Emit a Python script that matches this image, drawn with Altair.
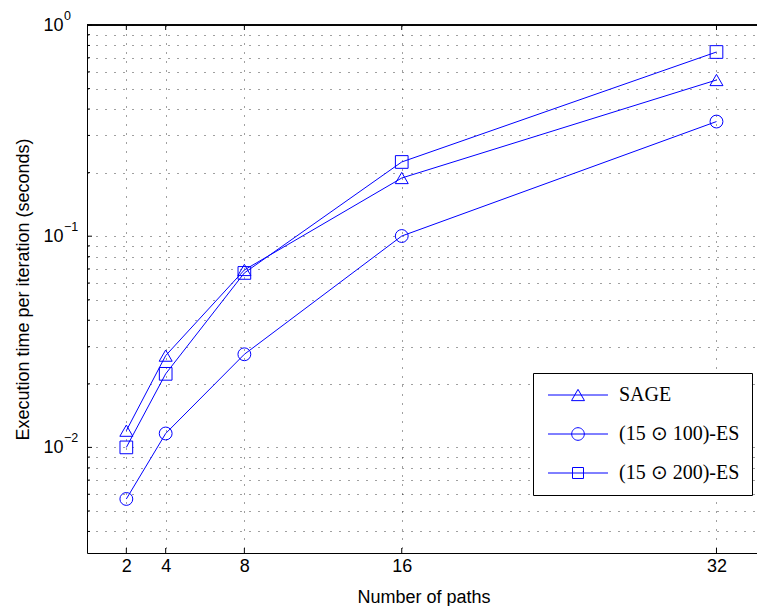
import altair as alt
import pandas as pd

# ---- data ----
paths = [2, 4, 8, 16, 32]
sage = [0.0120, 0.0272, 0.0692, 0.1886, 0.549]
es100 = [0.0057, 0.01164, 0.0276, 0.1002, 0.349]
es200 = [0.0100, 0.0223, 0.0670, 0.2246, 0.745]
series_names = ["SAGE", "(15 \u2299 100)-ES", "(15 \u2299 200)-ES"]

x_ticks = [2, 4, 8, 16, 32]
y_major = [0.01, 0.1, 1.0]
y_exponents = ["\u22122", "\u22121", "0"]
y_minor = [0.004, 0.005, 0.006, 0.007, 0.008, 0.009,
           0.02, 0.03, 0.04, 0.05, 0.06, 0.07, 0.08, 0.09,
           0.2, 0.3, 0.4, 0.5, 0.6, 0.7, 0.8, 0.9]
y_grid = sorted(y_major + y_minor)

rows = []
for name, vals in zip(series_names, [sage, es100, es200]):
    for p, v in zip(paths, vals):
        rows.append({"paths": p, "time": v, "series": name})
df = pd.DataFrame(rows)

W, H = 670, 528
BLUE = "#0000ff"

marker_shapes = ["triangle-up", "circle", "square"]
marker_sizes = [169, 161, 121]
# legend glyphs: a line with the marker in the middle (unit = 6.5 px)
legend_shapes = [
    "M-4.615,0L4.615,0M-1,0.866L1,0.866L0,-0.866Z",
    "M-4.615,0L4.615,0M-0.97,0A0.97,0.97 0 1,0 0.97,0A0.97,0.97 0 1,0 -0.97,0Z",
    "M-4.615,0L4.615,0M-0.846,-0.846L0.846,-0.846L0.846,0.846L-0.846,0.846Z",
]

xscale = alt.Scale(domain=[0, 34.06], nice=False, zero=False)
yscale = alt.Scale(type="log", domain=[10 ** -2.5, 1.0], nice=False)

xaxis = alt.Axis(values=x_ticks, grid=True, ticks=False, title="Number of paths",
                 labelPadding=4, titleAlign="left", titleX=270, titleY=35,
                 titleBaseline="top")
yaxis = alt.Axis(values=y_grid, grid=True, ticks=False,
                 title="Execution time per iteration (seconds)",
                 labelExpr="(datum.value == 1 || abs(datum.value - 0.1) < 1e-9 || abs(datum.value - 0.01) < 1e-9) ? '10' : ''",
                 labelPadding=24, titleX=-55, titleBaseline="bottom")

X = alt.X("paths:Q", scale=xscale, axis=xaxis)
Y = alt.Y("time:Q", scale=yscale, axis=yaxis)

base = alt.Chart(df)

lines = base.mark_line(color=BLUE, strokeWidth=1).encode(x=X, y=Y, detail="series:N")

points = base.mark_point(filled=False, color=BLUE, strokeWidth=1, opacity=1).encode(
    x=X, y=Y,
    shape=alt.Shape("series:N", scale=alt.Scale(domain=series_names, range=marker_shapes), legend=None),
    size=alt.Size("series:N", scale=alt.Scale(domain=series_names, range=marker_sizes), legend=None),
)

legend_layer = base.mark_point(filled=False, color=BLUE, strokeWidth=1, opacity=0).encode(
    x=X, y=Y,
    shape=alt.Shape(
        "series:N",
        scale=alt.Scale(domain=series_names, range=legend_shapes),
        legend=alt.Legend(
            title=None, orient="none", legendX=446, legendY=348,
            padding=12, symbolSize=169, symbolStrokeWidth=1, symbolOffset=23,
            symbolStrokeColor=BLUE, symbolFillColor="transparent", symbolOpacity=1,
            labelFont="Liberation Serif", labelFontSize=20, labelColor="black",
            labelOffset=31, rowPadding=19, strokeColor="black", fillColor="white",
            cornerRadius=0,
        ),
    ),
)

xt_df = pd.DataFrame({"paths": x_ticks})
xt_top = alt.Chart(xt_df).mark_rule(color="black", strokeWidth=1).encode(
    x=X, y=alt.value(0), y2=alt.value(5))
xt_bot = alt.Chart(xt_df).mark_rule(color="black", strokeWidth=1).encode(
    x=X, y=alt.value(H), y2=alt.value(H - 5))

ymaj_df = pd.DataFrame({"time": y_major, "exp": y_exponents})
ymin_df = pd.DataFrame({"time": y_minor})
yt_maj = alt.Chart(ymaj_df).mark_rule(color="black", strokeWidth=1).encode(
    y=Y, x=alt.value(0), x2=alt.value(5))
yt_min = alt.Chart(ymin_df).mark_rule(color="black", strokeWidth=1).encode(
    y=Y, x=alt.value(0), x2=alt.value(3))
exps = alt.Chart(ymaj_df).mark_text(
    font="Liberation Sans", fontSize=12.5, color="black", align="left",
    baseline="middle", dy=-9,
).encode(y=Y, x=alt.value(-23), text="exp:N")

top_border = alt.Chart(xt_df).mark_rule(color="black", strokeWidth=1).encode(
    x=alt.value(0), x2=alt.value(W), y=alt.value(0))

chart = alt.layer(
    lines, points, legend_layer, xt_top, xt_bot, yt_maj, yt_min, exps, top_border
).resolve_scale(shape="independent", size="independent").properties(
    width=W, height=H,
    autosize=alt.AutoSizeParams(type="none"),
    padding={"left": 79, "top": 17, "right": 0, "bottom": 56},
    background="white",
).configure_view(stroke=None).configure_axis(
    domainColor="black", domainWidth=1,
    labelFont="Liberation Sans", labelFontSize=18, labelColor="black",
    titleFont="Liberation Sans", titleFontSize=18, titleFontWeight="normal", titleColor="black",
    gridColor="#000000", gridDash=[1, 8], gridOpacity=0.75, gridWidth=1,
)

chart.save("out.html", embed_options={"renderer": "svg", "actions": False})
